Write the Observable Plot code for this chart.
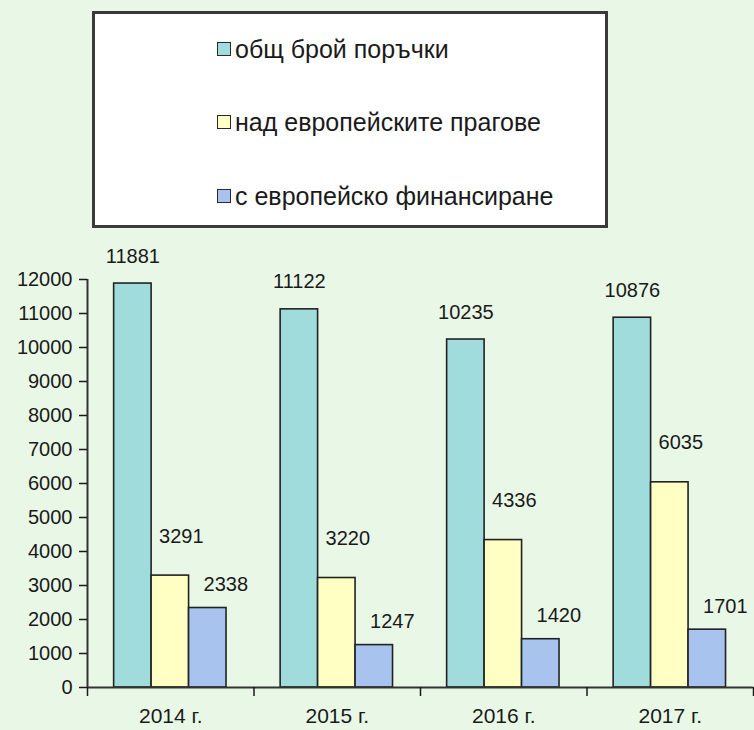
<!DOCTYPE html>
<html>
<head>
<meta charset="utf-8">
<script src="https://cdn.jsdelivr.net/npm/d3@7"></script>
<script src="https://cdn.jsdelivr.net/npm/@observablehq/plot@0.6"></script>
<style>
  html, body { margin: 0; padding: 0; background: #e9f8e6; }
  body { width: 754px; height: 730px; position: relative; overflow: hidden; font-family: "Liberation Sans", Arial, sans-serif; }
  #legend { position: absolute; left: 92px; top: 11px; width: 510px; height: 211px; border: 3px solid #3a3a3a; background: #ffffff; }
  .item { position: absolute; left: 122px; height: 30px; display: flex; align-items: center; font-size: 25px; color: #1a1a1a; white-space: nowrap; }
  .sw { width: 12px; height: 12px; border: 1.5px solid #2a2a2a; margin-right: 4px; }
  #chart { position: absolute; left: 0; top: 240px; }
</style>
</head>
<body>
<div id="legend"></div>
<div id="chart"></div>
<script>
const years = ["2014 г.", "2015 г.", "2016 г.", "2017 г."];
const series = ["общ брой поръчки", "над европейските прагове", "с европейско финансиране"];
const totalOrders = [11881, 11122, 10235, 10876];
const aboveEuThresholds = [3291, 3220, 4336, 6035];
const euFunded = [2338, 1247, 1420, 1701];
const colors = ["#a0dcdc", "#ffffc4", "#a8c4ee"];
const yTicks = [0, 1000, 2000, 3000, 4000, 5000, 6000, 7000, 8000, 9000, 10000, 11000, 12000];

const seriesValues = [totalOrders, aboveEuThresholds, euFunded];
const rows = [];
years.forEach((year, i) => {
  series.forEach((s, k) => {
    rows.push({year, series: s, value: seriesValues[k][i], i, k});
  });
});

// layout within each year group (fractions of a year band)
const groupOffset = 0.16, barW = 0.225;
const x1 = d => d.i + groupOffset + d.k * barW;
const x2 = d => d.i + groupOffset + (d.k + 1) * barW;
const xc = d => d.i + groupOffset + (d.k + 0.5) * barW;

// legend
const legend = document.getElementById("legend");
const rowTops = [20, 93, 167];
series.forEach((s, k) => {
  const it = document.createElement("div");
  it.className = "item";
  it.style.top = rowTops[k] + "px";
  const sw = document.createElement("div");
  sw.className = "sw";
  sw.style.background = colors[k];
  const tx = document.createElement("span");
  tx.textContent = s;
  it.appendChild(sw);
  it.appendChild(tx);
  legend.appendChild(it);
});

const labelOffsets = [{dx: 0, dy: -21}, {dx: 11, dy: -33}, {dx: 18, dy: -17}];

const plot = Plot.plot({
  width: 754,
  height: 490,
  marginLeft: 87,
  marginRight: 1,
  marginTop: 39,
  marginBottom: 43,
  style: {background: "transparent", color: "#1a1a1a", fontFamily: "Liberation Sans, Arial, sans-serif", fontSize: "20px"},
  x: {type: "linear", domain: [0, 4]},
  y: {domain: [0, 12000], label: null},
  color: {domain: series, range: colors},
  marks: [
    Plot.rectY(rows, {x1, x2, y: "value", fill: "series", stroke: "#222", strokeWidth: 1.6}),
    Plot.ruleY([0], {stroke: "#333", strokeWidth: 2}),
    Plot.ruleX([0], {y1: 0, y2: 12000, stroke: "#333", strokeWidth: 2}),
    Plot.axisY({ticks: yTicks, tickSize: 8, tickPadding: 7, fontSize: 20, strokeWidth: 1.5, label: null, tickFormat: d => String(d)}),
    Plot.axisX({ticks: [0, 1, 2, 3, 4], tickSize: 9, strokeWidth: 1.5, label: null, tickFormat: () => ""}),
    Plot.axisX({ticks: [0.5, 1.5, 2.5, 3.5], tickSize: 0, tickPadding: 21, fontSize: 21, label: null, tickFormat: t => years[Math.floor(t)]}),
    ...series.map((s, k) => Plot.text(rows.filter(d => d.k === k), {
      x: xc, y: "value", text: d => String(d.value),
      lineAnchor: "bottom", dx: labelOffsets[k].dx, dy: labelOffsets[k].dy,
      fontSize: 20, fill: "#1a1a1a"
    }))
  ]
});
document.getElementById("chart").appendChild(plot);
</script>
</body>
</html>
